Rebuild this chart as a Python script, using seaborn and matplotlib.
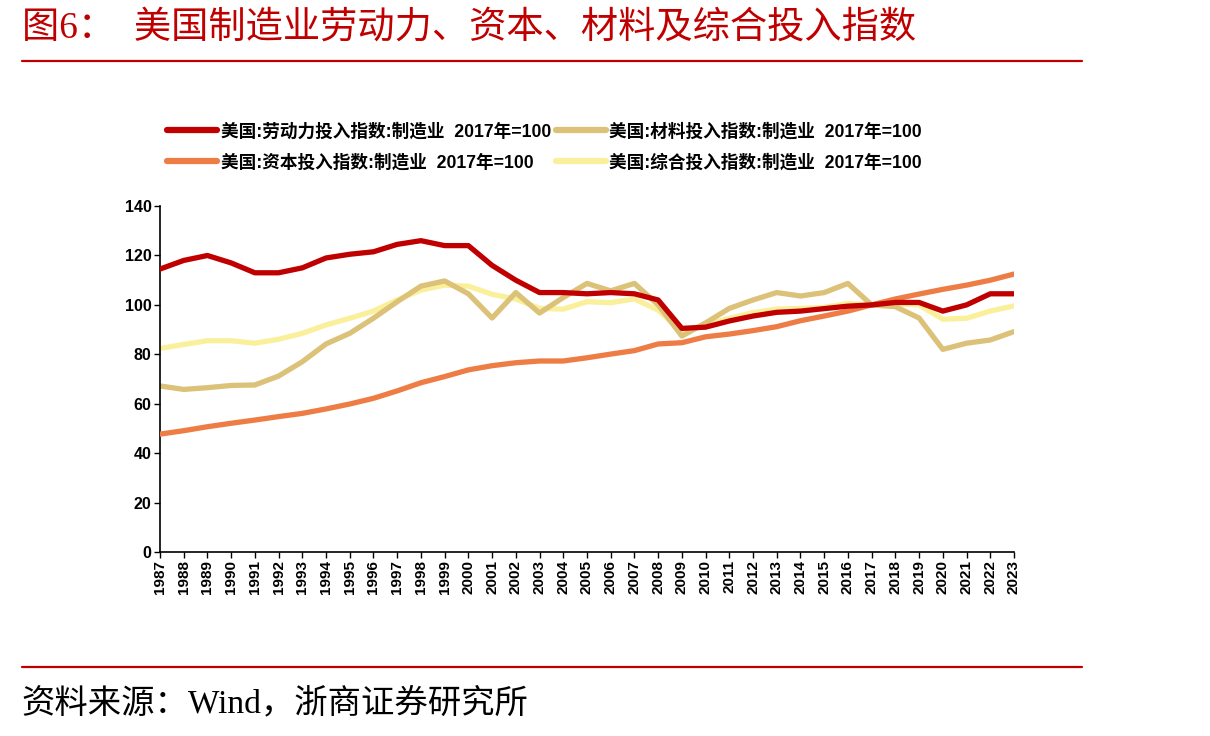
import numpy as np
import pandas as pd
import matplotlib
matplotlib.use('Agg')
import matplotlib.pyplot as plt
import seaborn as sns

# ── datos ─────────────────────────────────────────────────────────────────
years = list(range(1987, 2024))

labor = [114.5, 118, 120, 117, 113, 113, 115, 119, 120.5, 121.5,
         124.5, 126, 124, 124, 116, 110, 105, 105, 104.5, 105,
         104.5, 102, 90.5, 91, 93.5, 95.5, 97, 97.5, 98.5, 99.5,
         100, 101, 101, 97.5, 100, 104.5, 104.5]

capital = [47.7, 49.1, 50.7, 52.1, 53.4, 54.8, 56.1, 57.9, 59.9, 62.2,
           65.2, 68.5, 71, 73.7, 75.4, 76.6, 77.3, 77.3, 78.6, 80.1,
           81.5, 84.2, 84.7, 87.1, 88.2, 89.6, 91.2, 93.6, 95.5, 97.5,
           100, 102.4, 104.4, 106.3, 108, 110, 112.5]

materials = [67.2, 65.8, 66.5, 67.4, 67.6, 71.2, 77, 84.2, 88.5, 94.6,
             101.3, 107.6, 109.7, 104.5, 94.7, 105, 96.7, 103, 108.7, 105.7,
             108.7, 100, 87.4, 92.7, 98.6, 102, 105, 103.6, 105, 108.7,
             100, 99.3, 94.7, 82, 84.5, 85.8, 89.2]

composite = [82.4, 84, 85.5, 85.5, 84.5, 86.1, 88.5, 91.9, 94.6, 97.5,
             102, 106, 108, 107.6, 104.3, 102.4, 98.6, 98.3, 101.3, 100.9,
             102.4, 97.9, 89.2, 91.9, 94.6, 96.9, 98.3, 98.6, 99, 100.6,
             100, 100.4, 100, 94.2, 94.6, 97.5, 99.6]

series_names = ['美国:劳动力投入指数:制造业  2017年=100',
                '美国:资本投入指数:制造业  2017年=100',
                '美国:材料投入指数:制造业  2017年=100',
                '美国:综合投入指数:制造业  2017年=100']
series_colors = ['#C00000', '#ED7D45', '#DCC278', '#FAF09C']

y_ticks = [0, 20, 40, 60, 80, 100, 120, 140]

title_text = '图6：  美国制造业劳动力、资本、材料及综合投入指数'
source_text = '资料来源：Wind，浙商证券研究所'

# ── tabla larga para seaborn ──────────────────────────────────────────────
df = pd.DataFrame({
    'year': years * 4,
    'value': labor + capital + materials + composite,
    'serie': np.repeat(series_names, len(years)),
})

sns.set_theme(style='white')
plt.rcParams['font.family'] = ['Liberation Sans', 'Noto Sans CJK SC', 'DejaVu Sans']
plt.rcParams['text.color'] = 'black'
plt.rcParams['xtick.color'] = 'black'
plt.rcParams['ytick.color'] = 'black'

fig = plt.figure(figsize=(12.1, 7.36), dpi=100)
ax = fig.add_axes([0.1322, 0.25, 0.7058, 0.47])

sns.lineplot(data=df, x='year', y='value', hue='serie',
             hue_order=series_names, palette=series_colors,
             linewidth=3.8, ax=ax, legend=False)

# orden de dibujo: la línea roja por encima
for line, z in zip(ax.get_lines(), [4, 3, 2, 1]):
    line.set_zorder(z)

ax.set_xlim(1987, 2023)
ax.set_ylim(0, 140)
ax.set_xticks(years)
ax.set_xticklabels([str(y) for y in years], rotation=90,
                   fontsize=11, fontweight='bold')
ax.set_yticks(y_ticks)
ax.set_yticklabels([str(v) for v in y_ticks], fontsize=11.5, fontweight='bold')
ax.set_xlabel('')
ax.set_ylabel('')
ax.tick_params(axis='both', direction='out', length=4, width=1,
               color='black', labelcolor='black', pad=2,
               bottom=True, left=True)
for side in ['top', 'right']:
    ax.spines[side].set_visible(False)
for side in ['left', 'bottom']:
    ax.spines[side].set_color('black')
    ax.spines[side].set_linewidth(1.2)

# leyenda en dos filas
handles = [plt.Line2D([], [], color=c, linewidth=4.5) for c in series_colors]
leg = fig.legend(handles, series_names, loc='upper left', ncol=2,
                 bbox_to_anchor=(0.125, 0.855), frameon=False,
                 handlelength=2.85, handletextpad=0.2, columnspacing=0.25,
                 labelspacing=0.78,
                 prop={'family': ['Liberation Sans', 'Noto Sans CJK SC'],
                       'weight': 'bold', 'size': 12.7})
for t in leg.get_texts():
    t.set_color('black')

# título, líneas rojas y fuente
fig.text(0.018, 0.962, title_text, color='#C00000', fontsize=26.8,
         va='center', ha='left',
         family=['Liberation Serif', 'Noto Sans CJK SC'])
fig.add_artist(plt.Line2D([0.018, 0.894], [0.917, 0.917],
                          color='#C00000', linewidth=1.6))
fig.add_artist(plt.Line2D([0.018, 0.894], [0.094, 0.094],
                          color='#C00000', linewidth=1.6))
fig.text(0.018, 0.044, source_text, color='black', fontsize=24,
         va='center', ha='left',
         family=['Liberation Serif', 'Noto Sans CJK SC'])

fig.savefig('out.png', dpi=100)
plt.close(fig)
